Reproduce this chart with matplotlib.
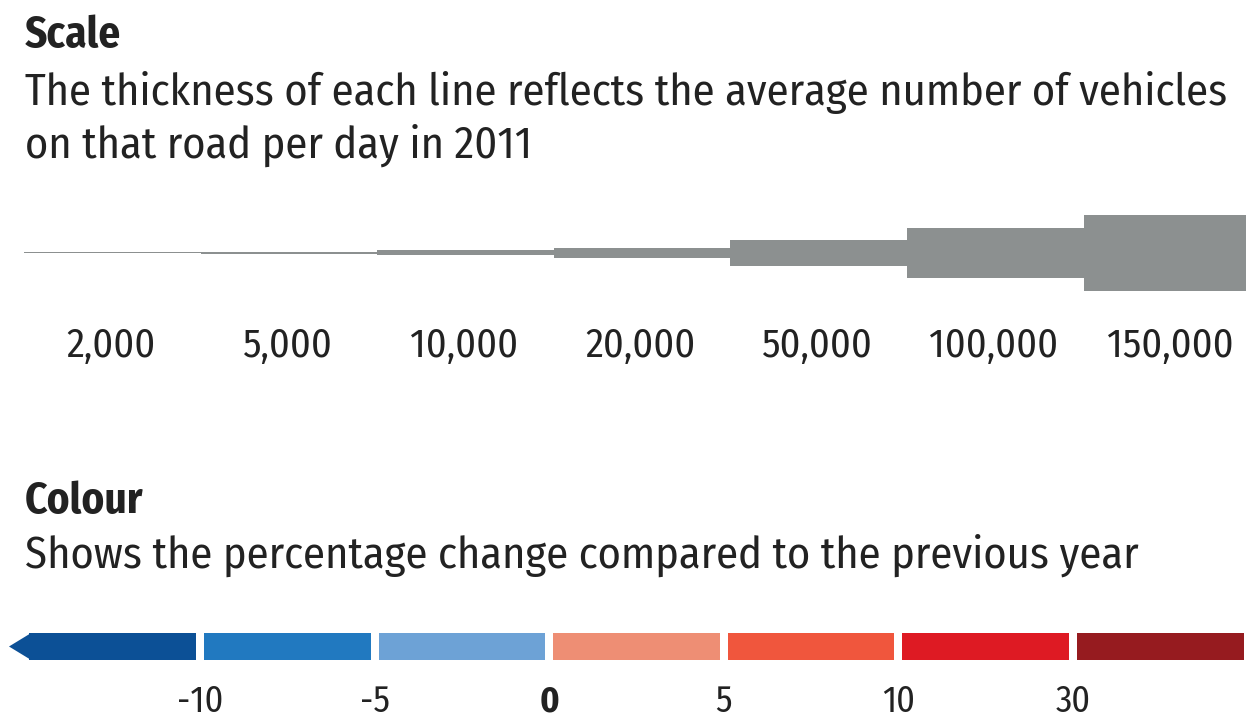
import numpy as np
import matplotlib
matplotlib.use("Agg")
import matplotlib.pyplot as plt
from matplotlib.patches import Polygon
from matplotlib.transforms import blended_transform_factory

# road traffic legend: line thickness = vehicles per day, colour = % change
vehicles = np.array([2000, 5000, 10000, 20000, 50000, 100000, 150000])
vehicle_labels = ["2,000", "5,000", "10,000", "20,000", "50,000", "100,000", "150,000"]

change_colours = ["#0c5096", "#2179c0", "#6da2d6", "#ee8e74", "#f0563d", "#de1a23", "#961b1f"]
change_ticks = ["-10", "-5", "0", "5", "10", "30"]

scale_title = "Scale"
scale_text = ["The thickness of each line reflects the average number of vehicles",
              "on that road per day in 2011"]
colour_title = "Colour"
colour_text = "Shows the percentage change compared to the previous year"

plt.rcParams["font.family"] = ["Fira Sans Condensed", "DejaVu Sans"]

W, H = 1246, 718
TEXT = "#222222"
GREY = "#8c9090"

fig = plt.figure(figsize=(W / 100, H / 100), dpi=100)


def px_axes(left, top, width, height):
    ax = fig.add_axes([left / W, 1 - (top + height) / H, width / W, height / H])
    ax.set_axis_off()
    return ax


def put_text(x, baseline, s, **kw):
    fig.text(x / W, 1 - baseline / H, s, va="baseline", color=TEXT, **kw)


# headings and descriptions
put_text(25, 47, scale_title, fontsize=31, fontweight="bold")
put_text(25, 105, scale_text[0], fontsize=32)
put_text(25, 158, scale_text[1], fontsize=32)
put_text(25, 513, colour_title, fontsize=31, fontweight="bold")
put_text(25, 568, colour_text, fontsize=32)

# thickness scale: stepped bar, height proportional to traffic
seg_px = 176.6
ax_w = px_axes(24, 202.3, W - 24, 101.3)
ax_w.set_xlim(0, (W - 24) / seg_px)
ax_w.set_ylim(-100000, 100000)
idx = np.arange(len(vehicles))
ax_w.bar(idx, vehicles, bottom=-vehicles / 2, width=1.0, align="edge",
         color=GREY, linewidth=0)
tr = blended_transform_factory(ax_w.transData, fig.transFigure)
for i, lab in enumerate(vehicle_labels):
    ax_w.text(i + 0.49, 1 - 357 / H, lab, transform=tr, ha="center",
              va="baseline", fontsize=29, color=TEXT)

# colour scale: seven bins, left-pointing arrow on the first
pitch = 174.6
first_center = 112.7
ax_c = px_axes(0, 633, W, 27)
ax_c.set_xlim(-first_center / pitch, (W - first_center) / pitch)
ax_c.set_ylim(0, 1)
cidx = np.arange(len(change_colours))
bw = 166.6 / pitch
ax_c.bar(cidx, np.ones(len(cidx)), width=bw, color=change_colours, linewidth=0)
ax_c.add_patch(Polygon([(-bw / 2 + 0.01, 0), ((9 - first_center) / pitch, 0.5),
                        (-bw / 2 + 0.01, 1)], closed=True,
                       facecolor=change_colours[0], linewidth=0))
trc = blended_transform_factory(ax_c.transData, fig.transFigure)
for k, lab in enumerate(change_ticks):
    ax_c.text(k + 0.5, 1 - 712 / H, lab, transform=trc, ha="center",
              va="baseline", fontsize=26, color=TEXT,
              fontweight="bold" if lab == "0" else "normal")

fig.savefig("out.png", dpi=100)
